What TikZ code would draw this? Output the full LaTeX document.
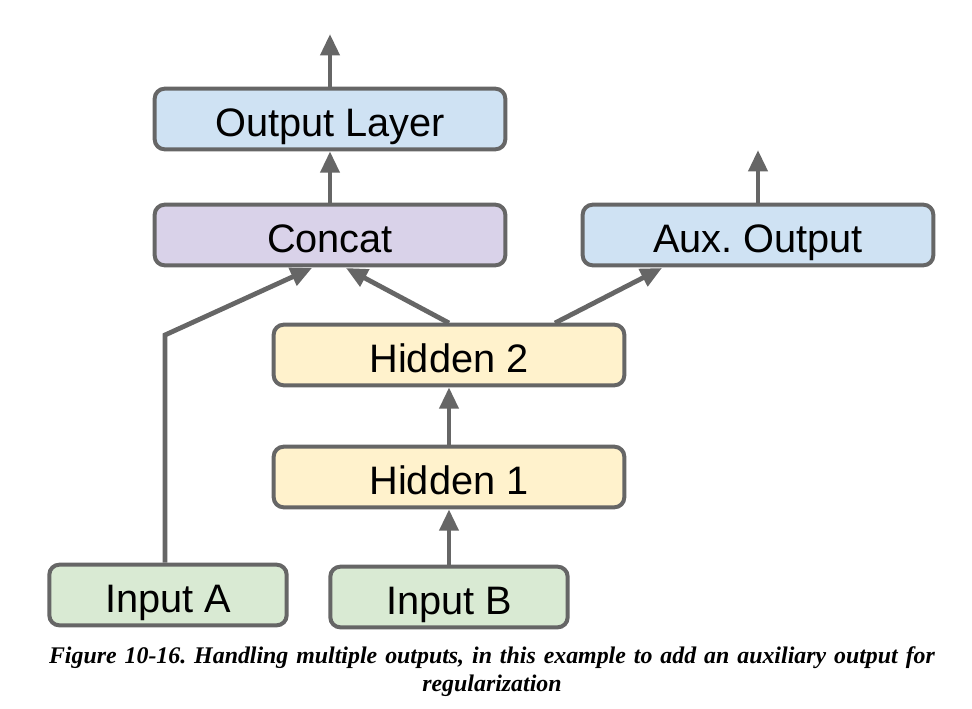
\documentclass[tikz,border=0pt]{standalone}
\usepackage{fontspec}
\setsansfont{Liberation Sans}
\setmainfont{Liberation Serif}
\usetikzlibrary{arrows.meta}
\definecolor{edge}{HTML}{666666}
\definecolor{cblue}{HTML}{CFE2F3}
\definecolor{cpurple}{HTML}{D9D2E9}
\definecolor{cyellow}{HTML}{FFF2CC}
\definecolor{cgreen}{HTML}{D9EAD3}
\tikzset{
  layer/.style={draw=edge, line width=3pt, rounded corners=7.5pt, minimum height=45.5pt,
    inner sep=0pt, text height=26pt, text depth=0pt,
    font=\sffamily\fontsize{29.8pt}{34pt}\selectfont, text=black},
  wide/.style={layer, minimum width=263pt},
  narrow/.style={layer, minimum width=178pt},
  arr/.style={draw=edge, line width=3.6pt, -{Triangle[length=16pt,width=14pt]}},
}
\begin{document}
\frenchspacing
\begin{tikzpicture}[x=0.75pt,y=-0.75pt]
\useasboundingbox (0,0) rectangle (972,708);
\node[wide, fill=cblue] (out) at (330,119) {Output Layer};
\node[wide, fill=cpurple] (concat) at (330,235) {Concat};
\node[wide, fill=cblue] (aux) at (758,235) {Aux. Output};
\node[wide, fill=cyellow] (h2) at (449,355) {Hidden 2};
\node[wide, fill=cyellow] (h1) at (449,477) {Hidden 1};
\node[narrow, fill=cgreen] (ina) at (168,595) {Input A};
\node[narrow, fill=cgreen] (inb) at (449,597) {Input B};
\coordinate (outtop) at (330,34);
\coordinate (auxtop) at (758,150);
\coordinate (bend) at (165,335);
\coordinate (cA) at (312,268);
\coordinate (cB) at (346,268);
\coordinate (h2l) at (449,323);
\coordinate (h2r) at (555,323);
\coordinate (auxin) at (662,268);
\draw[arr] (out.north) -- (outtop);
\draw[arr] (concat.north) -- (out.south);
\draw[arr] (aux.north) -- (auxtop);
\draw[arr] (ina.north -| bend) -- (bend) -- (cA);
\draw[arr] (h2l) -- (cB);
\draw[arr] (h2r) -- (auxin);
\draw[arr] (h1.north) -- (h2.south);
\draw[arr] (inb.north) -- (h1.south);
\node[font=\rmfamily\bfseries\itshape\fontsize{17.9pt}{21pt}\selectfont, align=center, text width=720pt, inner sep=0pt] (cap) at (492,672)
  {Figure 10-16. Handling multiple outputs, in this example to add an auxiliary output for\\regularization};
\end{tikzpicture}
\end{document}
